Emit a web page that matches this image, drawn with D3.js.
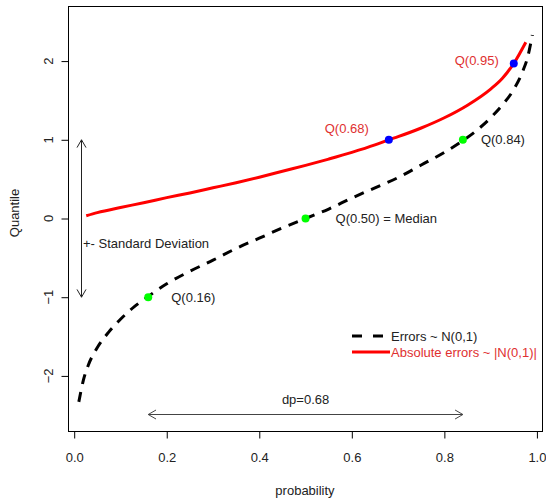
<!DOCTYPE html>
<html>
<head>
<meta charset="utf-8">
<script src="https://cdn.jsdelivr.net/npm/d3@7"></script>
<style>
  body { margin: 0; background: #fff; }
  text { font-family: "Liberation Sans", Arial, sans-serif; }
</style>
</head>
<body>
<script>
// quantiles of N(0,1) errors
var errP = [0.01, 0.02, 0.03, 0.05, 0.075, 0.1, 0.13, 0.16, 0.2, 0.25, 0.3, 0.35, 0.4, 0.45,
            0.5, 0.55, 0.6, 0.65, 0.7, 0.75, 0.8, 0.84, 0.87, 0.9, 0.925, 0.95, 0.97, 0.98, 0.99];
var errQ = [-2.33, -2.05, -1.87, -1.64, -1.44, -1.28, -1.12, -0.99, -0.83, -0.67, -0.53, -0.38, -0.25, -0.12,
            0.0, 0.12, 0.26, 0.39, 0.52, 0.68, 0.84, 0.99, 1.12, 1.28, 1.44, 1.64, 1.88, 2.05, 2.33];

// quantiles of |N(0,1)|
var absP = [0.026, 0.05, 0.1, 0.15, 0.2, 0.25, 0.3, 0.35, 0.4, 0.45, 0.5, 0.55, 0.6, 0.65,
            0.68, 0.7, 0.75, 0.8, 0.85, 0.9, 0.925, 0.95, 0.976];
var absQ = [0.035, 0.075, 0.14, 0.2, 0.265, 0.325, 0.39, 0.455, 0.525, 0.6, 0.675, 0.755, 0.84, 0.935,
            1.0, 1.04, 1.15, 1.28, 1.44, 1.645, 1.78, 1.97, 2.24];

var greenPts = [{p: 0.16, q: -1, lab: "Q(0.16)"}, {p: 0.5, q: 0, lab: "Q(0.50) = Median"}, {p: 0.84, q: 1, lab: "Q(0.84)"}];
var bluePts = [{p: 0.68, q: 1, lab: "Q(0.68)"}, {p: 0.95, q: 1.97, lab: "Q(0.95)"}];

var xTicks = [0, 0.2, 0.4, 0.6, 0.8, 1.0];
var yTicks = [-2, -1, 0, 1, 2];

var w = 546, h = 502;
var mLeft = 68, mRight = 542, mTop = 6, mBottom = 431;

var svg = d3.select("body").append("svg")
  .attr("width", w).attr("height", h);

var x = d3.scaleLinear().domain([-0.0134, 1.011]).range([mLeft, mRight]);
var y = d3.scaleLinear().domain([-2.7, 2.7]).range([mBottom, mTop]);

var txt = "#222";

// box
svg.append("rect")
  .attr("x", mLeft + 0.5).attr("y", mTop + 0.5)
  .attr("width", mRight - mLeft).attr("height", mBottom - mTop)
  .attr("fill", "none").attr("stroke", "#000");

// axes
var xa = svg.append("g")
  .attr("transform", `translate(0,${mBottom + 0.5})`)
  .call(d3.axisBottom(x).tickValues(xTicks).tickFormat(d3.format(".1f")).tickSize(7).tickPadding(14));
xa.select(".domain").remove();
xa.selectAll("text").attr("font-size", 13).attr("fill", txt).attr("font-family", "Liberation Sans, Arial");

var ya = svg.append("g")
  .attr("transform", `translate(${mLeft + 0.5},0)`)
  .call(d3.axisLeft(y).tickValues(yTicks).tickFormat(d3.format("d")).tickSize(7));
ya.select(".domain").remove();
ya.selectAll(".tick").attr("transform", null);
ya.selectAll(".tick line").attr("y1", d => y(d) + 0.5).attr("y2", d => y(d) + 0.5);
ya.selectAll("text")
  .attr("font-size", 13).attr("fill", txt).attr("font-family", "Liberation Sans, Arial")
  .attr("x", null).attr("dy", null)
  .attr("text-anchor", "middle")
  .attr("transform", d => `translate(-20,${y(d)}) rotate(-90)`)
  .attr("dominant-baseline", "central");

svg.append("text").attr("x", 305).attr("y", 495)
  .attr("text-anchor", "middle").attr("font-size", 13).attr("fill", txt)
  .text("probability");
svg.append("text")
  .attr("transform", "translate(14,213) rotate(-90)")
  .attr("text-anchor", "middle").attr("dominant-baseline", "central")
  .attr("font-size", 13).attr("fill", txt)
  .text("Quantile");

// curves
var line = d3.line().x(d => x(d[0])).y(d => y(d[1])).curve(d3.curveMonotoneX);

svg.append("path")
  .datum(errP.map((p, i) => [p, errQ[i]]))
  .attr("d", line)
  .attr("fill", "none").attr("stroke", "#000")
  .attr("stroke-width", 3).attr("stroke-dasharray", "10,8");

svg.append("path")
  .datum(absP.map((p, i) => [p, absQ[i]]))
  .attr("d", line)
  .attr("fill", "none").attr("stroke", "#ff0000")
  .attr("stroke-width", 3);

// points
svg.selectAll(".gpt").data(greenPts).enter().append("circle")
  .attr("cx", d => x(d.p)).attr("cy", d => y(d.q)).attr("r", 4)
  .attr("fill", "#00ff00");
svg.selectAll(".bpt").data(bluePts).enter().append("circle")
  .attr("cx", d => x(d.p)).attr("cy", d => y(d.q)).attr("r", 4)
  .attr("fill", "#0000ff");

// label offsets from their points
var gdx = [23, 30, 18];
var bdx = [-20, -15], bdy = [-11, -3];

svg.selectAll(".glab").data(greenPts).enter().append("text")
  .attr("x", (d, i) => x(d.p) + gdx[i]).attr("y", d => y(d.q))
  .attr("dominant-baseline", "central")
  .attr("font-size", 13).attr("fill", txt)
  .text(d => d.lab);
svg.selectAll(".blab").data(bluePts).enter().append("text")
  .attr("x", (d, i) => x(d.p) + bdx[i]).attr("y", (d, i) => y(d.q) + bdy[i])
  .attr("text-anchor", "end").attr("dominant-baseline", "central")
  .attr("font-size", 13).attr("fill", "#e03030")
  .text(d => d.lab);

// arrows
function arrowHead(x0, y0, ang) {
  var L = 9, a = Math.PI / 6;
  var p1 = [x0 - L * Math.cos(ang - a), y0 - L * Math.sin(ang - a)];
  var p2 = [x0 - L * Math.cos(ang + a), y0 - L * Math.sin(ang + a)];
  return `M${p1[0]},${p1[1]}L${x0},${y0}L${p2[0]},${p2[1]}`;
}
var ax = 81.5;
svg.append("path")
  .attr("d", `M${ax},${y(1)}L${ax},${y(-1)}` + arrowHead(ax, y(1), -Math.PI / 2) + arrowHead(ax, y(-1), Math.PI / 2))
  .attr("fill", "none").attr("stroke", "#222").attr("stroke-width", 1);
svg.append("text").attr("x", 83).attr("y", 243)
  .attr("dominant-baseline", "central").attr("font-size", 13).attr("fill", txt)
  .text("+- Standard Deviation");

var ay = 414.5;
svg.append("path")
  .attr("d", `M${x(0.16)},${ay}L${x(0.84)},${ay}` + arrowHead(x(0.16), ay, Math.PI) + arrowHead(x(0.84), ay, 0))
  .attr("fill", "none").attr("stroke", "#444").attr("stroke-width", 1);
svg.append("text").attr("x", x(0.5)).attr("y", 399)
  .attr("text-anchor", "middle").attr("dominant-baseline", "central")
  .attr("font-size", 13).attr("fill", txt)
  .text("dp=0.68");

// legend
var lg = svg.append("g");
lg.append("line").attr("x1", 352).attr("x2", 384).attr("y1", 336).attr("y2", 336)
  .attr("stroke", "#000").attr("stroke-width", 3).attr("stroke-dasharray", "10,11");
lg.append("text").attr("x", 391).attr("y", 336)
  .attr("dominant-baseline", "central").attr("font-size", 13).attr("fill", txt)
  .text("Errors ~ N(0,1)");
lg.append("line").attr("x1", 352).attr("x2", 390).attr("y1", 352).attr("y2", 352)
  .attr("stroke", "#ff0000").attr("stroke-width", 3);
lg.append("text").attr("x", 391).attr("y", 352)
  .attr("dominant-baseline", "central").attr("font-size", 13).attr("fill", "#e03030")
  .text("Absolute errors ~ |N(0,1)|");
</script>
</body>
</html>
